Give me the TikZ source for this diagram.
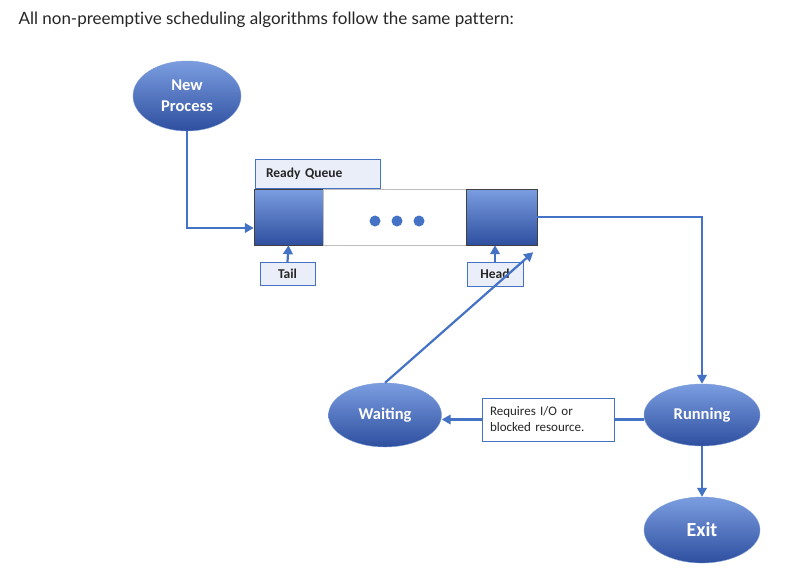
\documentclass[tikz,border=0pt]{standalone}
\usepackage{fontspec}
\setmainfont{Carlito}
\newfontfamily\titlefont[Ligatures={NoCommon,NoRare,NoContextual}]{Lato}
\usetikzlibrary{shapes.geometric,arrows.meta}

\definecolor{lineblue}{HTML}{4472C4}
\definecolor{lighttop}{HTML}{7B9DE0}
\definecolor{darkbottom}{HTML}{2E4F9F}
\definecolor{boxfill}{HTML}{E9EEF8}

\begin{document}
\begin{tikzpicture}[x=1pt,y=-1pt,
    main node/.style={ellipse,draw=lineblue!70!white,top color=lighttop,bottom color=darkbottom,
                      text=white,align=center,inner sep=0pt,font=\bfseries\fontsize{16.5}{21}\selectfont},
    queue block/.style={rectangle,draw=black!75,top color=lighttop,bottom color=darkbottom,
                        minimum height=56pt,inner sep=0pt},
    tag box/.style={rectangle,draw=lineblue,fill=boxfill,inner sep=0pt,
                    font=\bfseries\fontsize{13.5}{16}\selectfont,text=black!85},
    flow/.style={draw=lineblue,line width=2.2pt,-{Triangle[length=9pt,width=9.5pt]}}]

  \useasboundingbox[fill=white] (0,0) rectangle (792,584);

  \node[anchor=west,font=\titlefont\fontsize{17}{20}\selectfont,text=black!85] (title) at (15,20)
    {All non-preemptive scheduling algorithms follow the same pattern:};

  % states
  \node[main node,minimum width=108pt,minimum height=70pt] (new) at (187,96) {New\\Process};
  \node[main node,minimum width=113pt,minimum height=64pt] (wait) at (385,415) {Waiting};
  \node[main node,minimum width=116pt,minimum height=62pt] (run) at (702,415) {Running};
  \node[main node,minimum width=116pt,minimum height=66pt,font=\bfseries\fontsize{20}{24}\selectfont] (exit) at (702,530) {Exit};

  % the queue
  \node[queue block,minimum width=69pt] (tailq) at (288.5,217) {};
  \node[rectangle,draw=black!25,fill=white,minimum width=143pt,minimum height=56pt] (midq) at (394.5,217) {};
  \node[queue block,minimum width=71pt] (headq) at (501.5,217) {};
  \foreach \x in {375,397,419}
    \fill[lineblue] (\x,221) circle (5.5);

  \node[tag box,minimum width=125pt,minimum height=29pt,text width=103pt,align=left,inner xsep=11pt] (ready) at (317.5,173.5) {Ready Queue};
  \node[tag box,minimum width=55pt,minimum height=23pt] (tail) at (287.5,273.5) {Tail};
  \node[tag box,minimum width=56pt,minimum height=24pt] (head) at (495,274) {Head};
  \node[rectangle,draw=lineblue,fill=white,minimum width=132pt,minimum height=43pt,text width=116pt,
        align=left,inner xsep=8pt,font=\fontsize{13}{16}\selectfont,text=black!85] (reason) at (548,419.5)
        {Requires I/O or\\blocked resource.};

  % connectors
  \draw[flow] (new.south) |- ([yshift=-11pt]tailq.west);
  \draw[flow] (tail.north) -- (tailq.south);
  \draw[flow] (head.north) -- (head.north |- headq.south);
  \draw[flow] (headq.east) -| (run.north);
  \draw[draw=lineblue,line width=2.2pt] (run.west |- reason.east) -- (reason.east);
  \draw[flow] (reason.west) -- (wait.east |- reason.west);
  \draw[flow] (wait.north) -- ([xshift=-4pt,yshift=-7pt]headq.south east);
  \draw[flow] (run.south) -- (exit.north);
\end{tikzpicture}
\end{document}
